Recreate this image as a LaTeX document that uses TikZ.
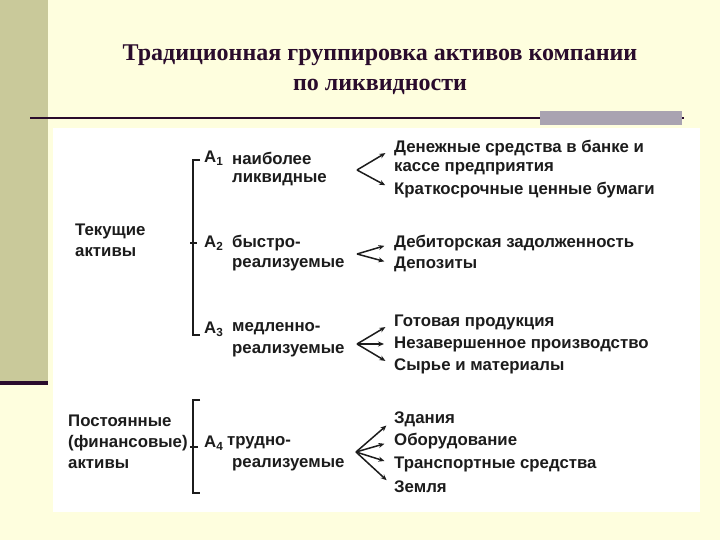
\documentclass[tikz,border=0pt]{standalone}
\usepackage{fontspec}
\setmainfont{Liberation Serif}
\newfontfamily\diagfont{Liberation Sans}
\usepackage{xcolor}
\usepackage{tikz}
\usetikzlibrary{arrows.meta,positioning}

\definecolor{cream}{HTML}{FEFEDE}
\definecolor{olive}{HTML}{C9C99A}
\definecolor{plum}{HTML}{2A0C2C}
\definecolor{barg}{HTML}{A9A3B1}
\definecolor{ink}{HTML}{1C1C1C}

\tikzset{
  item/.style={anchor=west,inner sep=0pt,text=ink,
    font=\diagfont\bfseries\fontsize{16.8}{21}\selectfont},
  ttl/.style={align=center,text=plum,
    font=\bfseries\fontsize{24}{30}\selectfont},
  brk/.style={draw=ink,line width=1.5pt},
  fork/.style={draw=ink,line width=1.5pt,->,shorten >=10pt}
}

\begin{document}
\begin{tikzpicture}[x=1pt,y=-1pt,>={Stealth[length=6pt,width=5pt]}]
  % slide frame
  \useasboundingbox (0,0) rectangle (720,540);
  \fill[cream] (0,0) rectangle (720,540);
  \fill[olive] (0,0) rectangle (48,381);
  \fill[plum] (0,381) rectangle (48,385);
  \draw[plum,line width=2pt] (30,118) -- (684,118);
  \fill[barg] (540,111) rectangle (682,125);
  \fill[white] (53,128) rectangle (700,512);

  \node[ttl] (title) at (380,70) {Традиционная группировка активов компании\\по ликвидности};

  % groups of assets
  \node[item,align=left] (cur) at (75,240.5) {Текущие\\активы};
  \node[item,align=left] (perm) at (68,442) {Постоянные\\(финансовые)\\активы};

  \node[item] (a1) at (204,158) {A\textsubscript{1}};
  \node[item] (a1a) at (232,158) {наиболее};
  \node[item] (a1b) at (232,180) {ликвидные};
  \node[item] (a2) at (204,243) {A\textsubscript{2}};
  \node[item] (a2a) at (232,243) {быстро-};
  \node[item] (a2b) at (232,265) {реализуемые};
  \node[item] (a3) at (204,329) {A\textsubscript{3}};
  \node[item] (a3a) at (232,329) {медленно-};
  \node[item] (a3b) at (232,351) {реализуемые};
  \node[item] (a4) at (204,443) {A\textsubscript{4}};
  \node[item] (a4a) at (227,443) {трудно-};
  \node[item] (a4b) at (232,465) {реализуемые};

  % brackets
  \draw[brk] (200,160) -- (193,160) -- (193,335) -- (200,335);
  \draw[brk] (190,243) -- (197,243);
  \draw[brk] (200,400) -- (193,400) -- (193,493) -- (200,493);
  \draw[brk] (190,447) -- (198,447);

  % what each group holds
  \node[item] (m1) at (394,148) {Денежные средства в банке и};
  \node[item] (m1b) at (394,169) {кассе предприятия};
  \node[item] (m2) at (394,190) {Краткосрочные ценные бумаги};
  \node[item] (d1) at (394,243) {Дебиторская задолженность};
  \node[item] (d2) at (394,264) {Депозиты};
  \node[item] (s1) at (394,322) {Готовая продукция};
  \node[item] (s2) at (394,344) {Незавершенное производство};
  \node[item] (s3) at (394,366) {Сырье и материалы};
  \node[item] (z1) at (394,419) {Здания};
  \node[item] (z2) at (394,441) {Оборудование};
  \node[item] (z3) at (394,464) {Транспортные средства};
  \node[item] (z4) at (394,487) {Земля};

  \coordinate (f1) at (357,170);
  \coordinate (f2) at (357,254);
  \coordinate (f3) at (357,344);
  \coordinate (f4) at (356,452);

  \draw[fork] (f1) -- (m1.west);
  \draw[fork] (f1) -- (m2.west);
  \draw[fork] (f2) -- (d1.west);
  \draw[fork] (f2) -- (d2.west);
  \draw[fork] (f3) -- (s1.west);
  \draw[fork] (f3) -- (s2.west);
  \draw[fork] (f3) -- (s3.west);
  \draw[fork] (f4) -- (z1.west);
  \draw[fork] (f4) -- (z2.west);
  \draw[fork] (f4) -- (z3.west);
  \draw[fork] (f4) -- (z4.west);
\end{tikzpicture}
\end{document}
